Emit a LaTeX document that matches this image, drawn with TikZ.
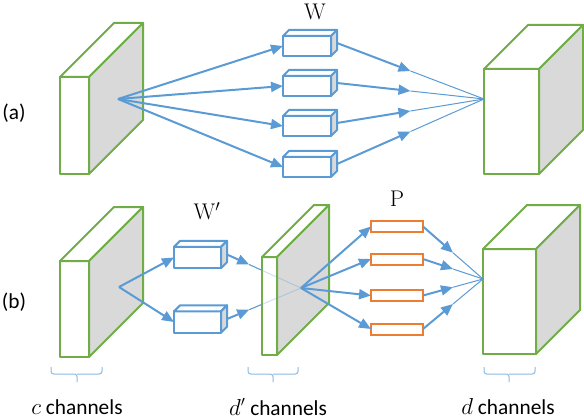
\documentclass[tikz,border=0pt]{standalone}
\usepackage{fontspec}
\newfontfamily\labelfont{Carlito}
\usetikzlibrary{arrows.meta,calc,positioning}
\definecolor{slabgreen}{RGB}{112,173,71}
\definecolor{flowblue}{RGB}{91,155,213}
\definecolor{porange}{RGB}{237,125,49}
\definecolor{facegray}{RGB}{217,217,217}
\newcommand{\boxfaces}[1]{%
  \draw[boxface,fill=white] (#1.north west) -- ++(6,-6) -- ($(#1.north east)+(6,-6)$) -- (#1.north east) -- cycle;
  \draw[boxface,fill=facegray] (#1.north east) -- ++(6,-6) -- ($(#1.south east)+(6,-6)$) -- (#1.south east) -- cycle;}

\begin{document}
\begin{tikzpicture}[x=0.75pt,y=-0.75pt,
   slab/.style={draw=slabgreen,line width=1.5pt,line join=round},
   boxface/.style={draw=flowblue,line width=1.5pt,line join=round},
   wbox/.style={boxface,fill=white,minimum width=36pt,minimum height=15pt,inner sep=0pt,outer sep=0pt},
   pbox/.style={draw=porange,line width=1.5pt,fill=white,minimum width=39pt,minimum height=8.25pt,inner sep=0pt,outer sep=0pt},
   flow/.style={draw=flowblue,line width=1.5pt,-{Triangle[length=9pt,width=7.5pt]}},
   thinflow/.style={draw=flowblue,line width=0.75pt},
   chbrace/.style={draw=flowblue!70,line width=0.75pt,rounded corners=2pt},
   lbl/.style={font=\labelfont\fontsize{16}{19}\selectfont,inner sep=0pt},
   mlbl/.style={font=\fontsize{17}{20}\selectfont,inner sep=0pt}]
  \useasboundingbox (0,0) rectangle (584,420);

  % ---------------- (a) ----------------
  \node[lbl] (tagA) at (14,113) {(a)};
  \draw[slab,fill=white] (60,77) rectangle (89,174);                              % input front
  \draw[slab,fill=white] (60,77) -- ++(54,-54) -- ++(29,0) -- (89,77) -- cycle;   % input top
  \draw[slab,fill=facegray] (89,77) -- ++(54,-54) -- ++(0,97) -- (89,174) -- cycle; % input side
  \draw[slab,fill=white] (484,69) rectangle (539,174);                            % output front
  \draw[slab,fill=white] (484,69) -- ++(44,-44) -- ++(55,0) -- (539,69) -- cycle; % output top
  \draw[slab,fill=facegray] (539,69) -- ++(44,-44) -- ++(0,105) -- (539,174) -- cycle; % output side
  \coordinate (inA) at (118,99);
  \coordinate (outA) at (484,99);

  \node[wbox] (w1) at (307,46) {};  \boxfaces{w1}
  \node[wbox] (w2) at (307,86) {};  \boxfaces{w2}
  \node[wbox] (w3) at (307,126) {}; \boxfaces{w3}
  \node[wbox] (w4) at (307,167) {}; \boxfaces{w4}
  \node[mlbl] (wlab) at (315,12) {$\mathrm{W}$};

  \draw[flow] (inA) -- (w1.west);     % fan out to the filters
  \draw[flow] (inA) -- (w2.west);
  \draw[flow] (inA) -- (w3.west);
  \draw[flow] (inA) -- (w4.west);

  \coordinate (w1o) at ($(w1.east)+(6,-3)$);
  \coordinate (w2o) at ($(w2.east)+(6,-3)$);
  \coordinate (w3o) at ($(w3.east)+(6,-3)$);
  \coordinate (w4o) at ($(w4.east)+(6,-3)$);
  \draw[flow] (w1o) -- ($(w1o)!0.5!(outA)$);  \draw[thinflow] ($(w1o)!0.5!(outA)$) -- (outA);
  \draw[flow] (w2o) -- ($(w2o)!0.5!(outA)$);  \draw[thinflow] ($(w2o)!0.5!(outA)$) -- (outA);
  \draw[flow] (w3o) -- ($(w3o)!0.5!(outA)$);  \draw[thinflow] ($(w3o)!0.5!(outA)$) -- (outA);
  \draw[flow] (w4o) -- ($(w4o)!0.5!(outA)$);  \draw[thinflow] ($(w4o)!0.5!(outA)$) -- (outA);

  % ---------------- (b) ----------------
  \node[lbl] (tagB) at (14,302) {(b)};
  \draw[slab,fill=white] (60,261) rectangle (89,357);                              % input front
  \draw[slab,fill=white] (60,261) -- ++(54,-54) -- ++(29,0) -- (89,261) -- cycle;  % input top
  \draw[slab,fill=facegray] (89,261) -- ++(54,-54) -- ++(0,96) -- (89,357) -- cycle; % input side
  \coordinate (inB) at (119,287);
  \coordinate (midB) at (301,288);
  \coordinate (outB) at (483,279);

  \node[wbox,minimum width=35.25pt,minimum height=16pt] (v1) at (197.5,257.5) {}; \boxfaces{v1}
  \node[wbox,minimum width=35.25pt,minimum height=16pt] (v2) at (197.5,322) {};   \boxfaces{v2}
  \node[mlbl] (vlab) at (207,211) {$\mathrm{W}'$};
  \draw[flow] (inB) -- (v1.west);
  \draw[flow] (inB) -- (v2.west);
  \coordinate (v1o) at ($(v1.east)+(6,-3)$);
  \coordinate (v2o) at ($(v2.east)+(6,-3)$);
  \draw[flow] (v1o) -- ($(v1o)!0.3!(midB)$);  \draw[thinflow] ($(v1o)!0.3!(midB)$) -- (midB);
  \draw[flow] (v2o) -- ($(v2o)!0.3!(midB)$);  \draw[thinflow] ($(v2o)!0.3!(midB)$) -- (midB);

  \draw[slab,fill=white] (262,257) rectangle (277,355);                              % middle front
  \draw[slab,fill=white] (262,257) -- ++(52,-52) -- ++(15,0) -- (277,257) -- cycle;  % middle top
  \draw[slab,fill=facegray] (277,257) -- ++(52,-52) -- ++(0,98) -- (277,355) -- cycle; % middle side
  \draw[thinflow,opacity=0.3] ($(v1o)!0.3!(midB)$) -- (midB);  % seen through the slab
  \draw[thinflow,opacity=0.3] ($(v2o)!0.3!(midB)$) -- (midB);

  \node[pbox] (p1) at (397,226.5) {};
  \node[pbox] (p2) at (397,259) {};
  \node[pbox] (p3) at (397,295.5) {};
  \node[pbox] (p4) at (397,329) {};
  \node[mlbl] (plab) at (397,199) {$\mathrm{P}$};
  \draw[flow] (midB) -- (p1.west);
  \draw[flow] (midB) -- (p2.west);
  \draw[flow] (midB) -- (p3.west);
  \draw[flow] (midB) -- (p4.west);

  \draw[slab,fill=white] (483,249) rectangle (536,354);                              % output front
  \draw[slab,fill=white] (483,249) -- ++(44,-44) -- ++(53,0) -- (536,249) -- cycle;  % output top
  \draw[slab,fill=facegray] (536,249) -- ++(44,-44) -- ++(0,105) -- (536,354) -- cycle; % output side
  \draw[flow] (p1.east) -- ($(p1.east)!0.5!(outB)$);  \draw[thinflow] ($(p1.east)!0.5!(outB)$) -- (outB);
  \draw[flow] (p2.east) -- ($(p2.east)!0.5!(outB)$);  \draw[thinflow] ($(p2.east)!0.5!(outB)$) -- (outB);
  \draw[flow] (p3.east) -- ($(p3.east)!0.5!(outB)$);  \draw[thinflow] ($(p3.east)!0.5!(outB)$) -- (outB);
  \draw[flow] (p4.east) -- ($(p4.east)!0.5!(outB)$);  \draw[thinflow] ($(p4.east)!0.5!(outB)$) -- (outB);

  % channel braces and counts
  \draw[chbrace] (51,367) |- (77,374) -- (77,382) (77,374) -| (102,367);
  \draw[chbrace] (248,367) |- (273,374) -- (273,382) (273,374) -| (298,367);
  \draw[chbrace] (484,367) |- (509,374) -- (509,382) (509,374) -| (535,367);
  \node[lbl] (cch) at (77,407) {$c$ channels};
  \node[lbl] (dpch) at (278,407) {$d'$ channels};
  \node[lbl] (dch) at (508,407) {$d$ channels};
\end{tikzpicture}
\end{document}
